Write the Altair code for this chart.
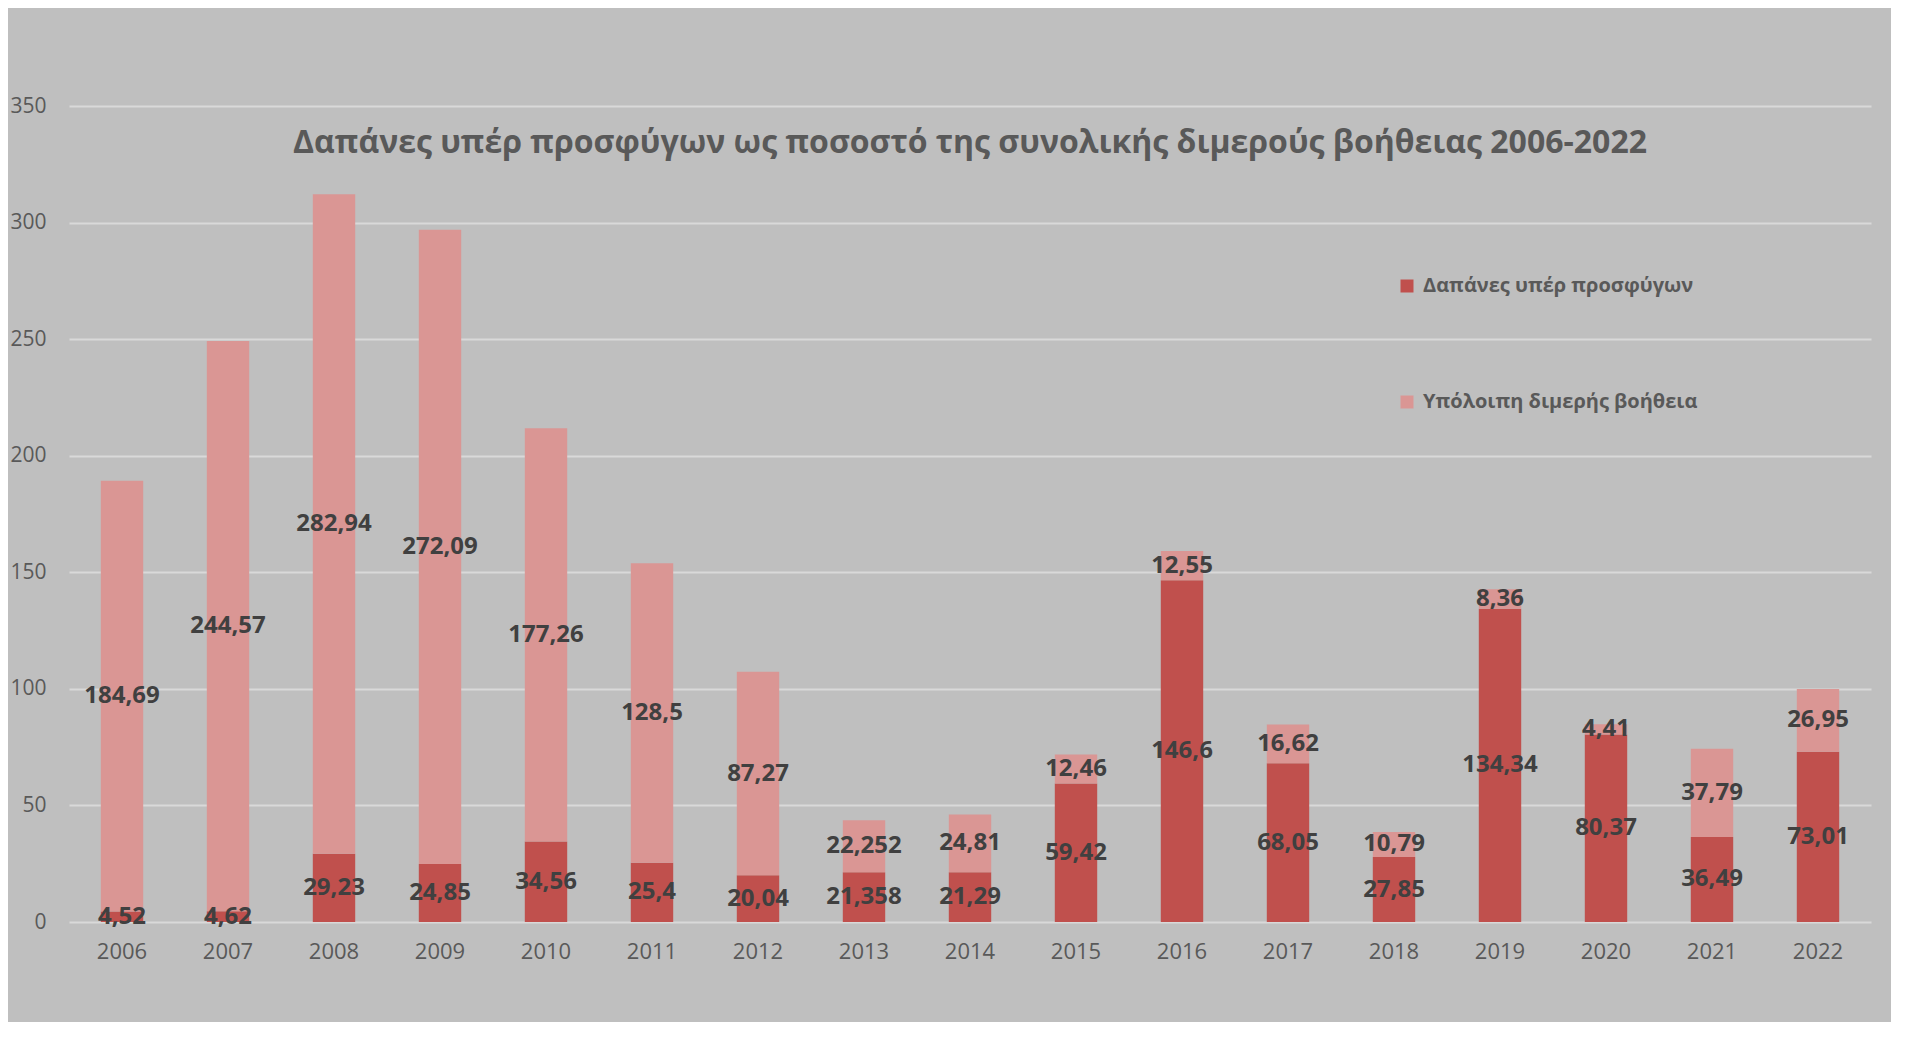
import altair as alt
import pandas as pd

years = [str(y) for y in range(2006, 2023)]
refugee_costs = [4.52, 4.62, 29.23, 24.85, 34.56, 25.4, 20.04, 21.358, 21.29,
                 59.42, 146.6, 68.05, 27.85, 134.34, 80.37, 36.49, 73.01]
remaining_aid = [184.69, 244.57, 282.94, 272.09, 177.26, 128.5, 87.27, 22.252, 24.81,
                 12.46, 12.55, 16.62, 10.79, 8.36, 4.41, 37.79, 26.95]
series_names = ["Δαπάνες υπέρ προσφύγων", "Υπόλοιπη  διμερής βοήθεια"]
series_colors = ["#C0504D", "#DA9694"]
title_text = "Δαπάνες υπέρ προσφύγων ως ποσοστό της συνολικής διμερούς βοήθειας 2006-2022"
y_ticks = [0, 50, 100, 150, 200, 250, 300, 350]

rows = []
for i, y in enumerate(years):
    for k, vals in enumerate([refugee_costs, remaining_aid]):
        v = vals[i]
        rows.append({"year": y, "series": series_names[k], "ord": k,
                     "value": v, "label": str(v).replace(".", ",")})
df = pd.DataFrame(rows)

FONT = "Open Sans"

base = alt.Chart(df).transform_stack(
    stack="value", groupby=["year"], sort=[alt.SortField("ord", "ascending")],
    as_=["v0", "v1"]
).transform_calculate(mid="(datum.v0 + datum.v1) / 2")

x_enc = alt.X("year:N", sort=years, title=None,
              scale=alt.Scale(paddingInner=0.6, paddingOuter=0.3),
              axis=alt.Axis(labelAngle=0, domain=False, ticks=False, grid=False,
                            labelFont=FONT, labelFontSize=22, labelColor="#595959",
                            labelPadding=19))
y_scale = alt.Scale(domain=[0, 350], nice=False)

bars = base.mark_bar().encode(
    x=x_enc,
    y=alt.Y("v0:Q", scale=y_scale, title=None,
            axis=alt.Axis(values=y_ticks, domain=False, ticks=False, grid=True,
                          gridColor="#D9D9D9", gridWidth=2,
                          labelFont=FONT, labelFontSize=21, labelColor="#595959",
                          labelPadding=23)),
    y2="v1:Q",
    color=alt.Color("series:N", scale=alt.Scale(domain=series_names, range=series_colors),
                    legend=alt.Legend(title=None, orient="none", legendX=1328, legendY=170,
                                      direction="vertical", rowPadding=96,
                                      symbolType="square", symbolSize=169,
                                      symbolStrokeWidth=0, labelOffset=6, labelLimit=0,
                                      labelFont=FONT, labelFontSize=20,
                                      labelFontWeight="bold", labelColor="#595959")),
)

labels = base.mark_text(font=FONT, fontSize=24, fontWeight="bold", color="#404040",
                        baseline="middle").encode(
    x=alt.X("year:N", sort=years),
    y=alt.Y("mid:Q", scale=y_scale),
    text="label:N",
)

title = alt.Chart(pd.DataFrame({"t": [title_text]})).mark_text(
    font=FONT, fontSize=32, fontWeight="bold", color="#595959", baseline="middle"
).encode(text="t:N", x=alt.value(901), y=alt.value(37))

chart = alt.layer(bars, labels, title).properties(
    width=1802, height=816, background="#BFBFBF",
    autosize=alt.AutoSizeParams(type="none"),
    padding={"left": 61, "top": 98, "right": 20, "bottom": 100},
).configure_view(stroke=None)

chart.save("out.html", embed_options={"renderer": "svg", "actions": False})
